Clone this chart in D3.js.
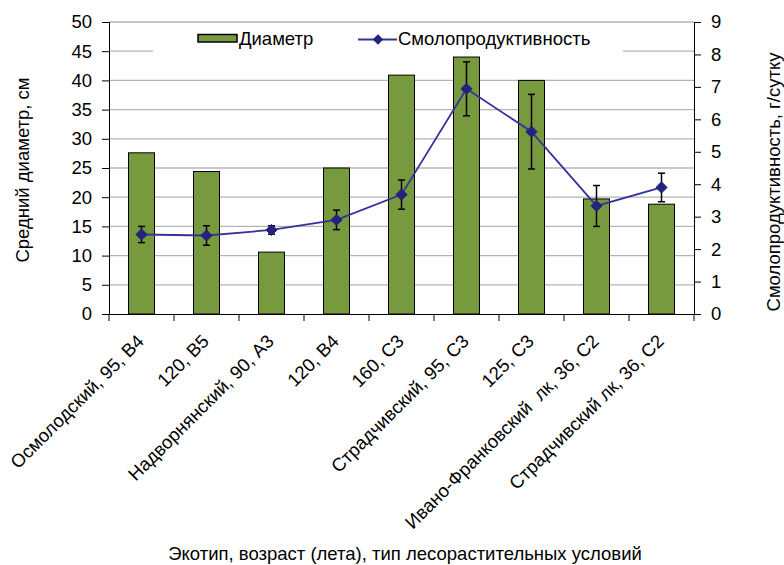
<!DOCTYPE html>
<html><head><meta charset="utf-8">
<script src="https://cdn.jsdelivr.net/npm/d3@7"></script>
<style>body{margin:0;background:#fff;}svg{display:block;font-family:"Liberation Sans",Arial,sans-serif;}</style>
</head><body>
<svg id="c" width="784" height="565"></svg>
<script>
const categories = ["Осмолодский, 95, В4","120, В5","Надворнянский, 90, А3","120, В4","160, С3","Страдчивский, 95, С3","125, С3","Ивано-Франковский  лк, 36, С2","Страдчивский лк, 36, С2"];
const diameter = [27.6, 24.4, 10.6, 25.0, 40.9, 44.0, 40.0, 19.7, 18.8];
const resin = [2.45, 2.42, 2.59, 2.90, 3.68, 6.94, 5.62, 3.33, 3.90];
const resinErr = [0.25, 0.30, 0.13, 0.30, 0.45, 0.83, 1.15, 0.63, 0.44];
const leftTicks = [0,5,10,15,20,25,30,35,40,45,50];
const rightTicks = [0,1,2,3,4,5,6,7,8,9];

const svg = d3.select("#c");
const L=109, R=694, T=22, B=314;
const x = d3.scaleBand().domain(categories).range([L,R]).paddingInner(0.6).paddingOuter(0.3);
const xb = d3.scaleBand().domain(categories).range([L,R]);
const yL = d3.scaleLinear().domain([0,50]).range([B,T]);
const yR = d3.scaleLinear().domain([0,9]).range([B,T]);

// gridlines
svg.append("g").selectAll("line").data(leftTicks.filter(d=>d>0)).join("line")
  .attr("x1",L).attr("x2",R).attr("y1",d=>yL(d)).attr("y2",d=>yL(d))
  .attr("stroke","#b4b4b4").attr("stroke-width",1.3);

// bars
svg.append("g").selectAll("rect").data(categories).join("rect")
  .attr("x",d=>x(d)).attr("width",x.bandwidth())
  .attr("y",(d,i)=>yL(diameter[i])).attr("height",(d,i)=>B-yL(diameter[i]))
  .attr("fill","#789a3e").attr("stroke","#000").attr("stroke-width",1);

// axes
const fs = 18.5;
const gl = svg.append("g").attr("transform",`translate(${L},0)`).call(d3.axisLeft(yL).tickValues(leftTicks).tickSize(7).tickPadding(10));
const gr = svg.append("g").attr("transform",`translate(${R},0)`).call(d3.axisRight(yR).tickValues(rightTicks).tickSize(7).tickPadding(10));
const gx = svg.append("g").attr("transform",`translate(0,${B})`).call(d3.axisBottom(xb).tickSize(0).tickFormat(""));
[gl,gr].forEach(g=>{g.selectAll("text").attr("font-size",fs).attr("fill","#000").attr("font-family","Liberation Sans, Arial");
  g.select(".domain").attr("stroke","#000"); g.selectAll(".tick line").attr("stroke","#000");});
gx.select(".domain").attr("stroke","#000");
// category boundary ticks
svg.append("g").selectAll("line").data(d3.range(categories.length+1)).join("line")
  .attr("x1",i=>L+i*xb.step()).attr("x2",i=>L+i*xb.step()).attr("y1",B).attr("y2",B+7).attr("stroke","#000");

// category labels
svg.append("g").selectAll("text").data(categories).join("text")
  .attr("transform",d=>`translate(${x(d)+x.bandwidth()/2-1},${B+24}) rotate(-45)`)
  .attr("text-anchor","end").attr("dy","0.35em").attr("font-size",fs)
  .style("white-space","pre").text(d=>d);

// line
const cx = d=>xb(d)+xb.bandwidth()/2;
svg.append("path").datum(categories)
  .attr("d",d3.line().x(d=>cx(d)).y((d,i)=>yR(resin[i])))
  .attr("fill","none").attr("stroke","#33339a").attr("stroke-width",1.8);

// error bars
const eb = svg.append("g").attr("stroke","#000").attr("stroke-width",1.5);
categories.forEach((d,i)=>{
  const c=cx(d), y1=yR(resin[i]+resinErr[i]), y2=yR(resin[i]-resinErr[i]);
  eb.append("line").attr("x1",c).attr("x2",c).attr("y1",y1).attr("y2",y2);
  eb.append("line").attr("x1",c-3.5).attr("x2",c+3.5).attr("y1",y1).attr("y2",y1);
  eb.append("line").attr("x1",c-3.5).attr("x2",c+3.5).attr("y1",y2).attr("y2",y2);
});
// markers
svg.append("g").selectAll("path").data(categories).join("path")
  .attr("transform",(d,i)=>`translate(${cx(d)},${yR(resin[i])})`)
  .attr("d",d3.symbol(d3.symbolDiamond2,80)())
  .attr("fill","#23237e").attr("stroke","#23237e");

// legend
const lg = svg.append("g");
lg.append("rect").attr("x",153).attr("y",29).attr("width",470).attr("height",25).attr("fill","#fff");
lg.append("rect").attr("x",198).attr("y",34.5).attr("width",39).attr("height",7.5).attr("fill","#789a3e").attr("stroke","#000").attr("stroke-width",1.5);
lg.append("text").attr("x",239).attr("y",45).attr("font-size",fs).text("Диаметр");
lg.append("line").attr("x1",358).attr("x2",397).attr("y1",39.5).attr("y2",39.5).attr("stroke","#33339a").attr("stroke-width",1.8);
lg.append("path").attr("transform","translate(378,39.5)").attr("d",d3.symbol(d3.symbolDiamond2,70)()).attr("fill","#23237e");
lg.append("text").attr("x",398).attr("y",45).attr("font-size",fs).text("Смолопродуктивность");

// axis titles
svg.append("text").attr("transform","translate(29,170) rotate(-90)").attr("text-anchor","middle").attr("font-size",fs).text("Средний диаметр, см");
svg.append("text").attr("transform","translate(780,182) rotate(-90)").attr("text-anchor","middle").attr("font-size",fs).text("Смолопродуктивность, г/сутку");
svg.append("text").attr("x",405).attr("y",560).attr("text-anchor","middle").attr("font-size",fs).text("Экотип, возраст (лета), тип лесорастительных условий");
</script>
</body></html>
